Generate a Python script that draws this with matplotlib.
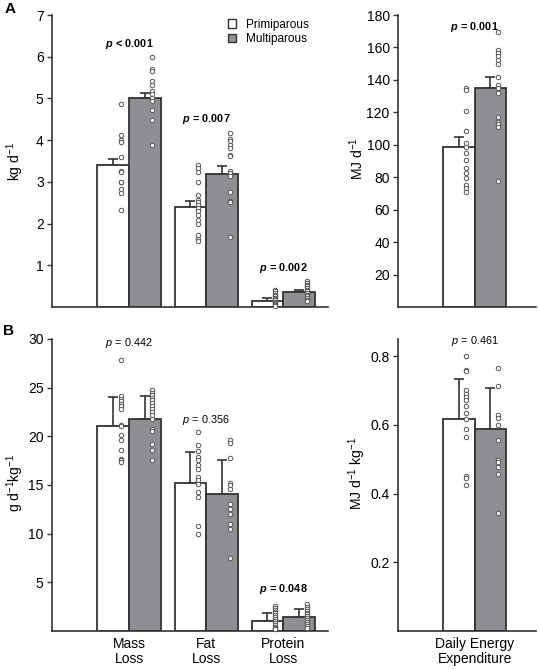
import matplotlib
matplotlib.use("Agg")
import matplotlib.pyplot as plt
from matplotlib.patches import Patch

plt.rcParams['font.family'] = ['Liberation Sans', 'DejaVu Sans']
plt.rcParams['mathtext.fontset'] = 'custom'
plt.rcParams['mathtext.rm'] = 'Liberation Sans'
plt.rcParams['mathtext.it'] = 'Liberation Sans:italic'
plt.rcParams['mathtext.bf'] = 'Liberation Sans:bold'
plt.rcParams['mathtext.bfit'] = 'Liberation Sans:bold:italic'
plt.rcParams['axes.unicode_minus'] = False

# ---------------- data ----------------
groups = ["Primiparous", "Multiparous"]
loss_categories = ["Mass\nLoss", "Fat\nLoss", "Protein\nLoss"]
dee_category = ["Daily Energy\nExpenditure"]

# Panel A (absolute)
a_loss_prim_mean = [3.40, 2.40, 0.15]
a_loss_prim_se = [0.15, 0.15, 0.06]
a_loss_multi_mean = [5.00, 3.20, 0.35]
a_loss_multi_se = [0.12, 0.17, 0.06]
a_loss_p = [r"$\mathbfit{p}\,\mathbf{<\,0.001}$", r"$\mathbfit{p}\,\mathbf{=\,0.007}$", r"$\mathbfit{p}\,\mathbf{=\,0.002}$"]
a_loss_p_y = [6.3, 4.5, 0.94]

a_mass_prim_pts = [4.87, 4.13, 4.00, 3.96, 3.60, 3.25, 3.23, 3.01, 2.99, 2.83, 2.73, 2.33]
a_mass_multi_pts = [5.99, 5.70, 5.65, 5.41, 5.33, 5.17, 5.11, 5.01, 4.93, 4.73, 4.48, 3.89]
a_fat_prim_pts = [3.41, 3.33, 3.23, 2.99, 2.68, 2.57, 2.52, 2.45, 2.37, 2.31, 2.21, 2.09, 2.00, 1.73, 1.63, 1.58]
a_fat_multi_pts = [4.17, 4.03, 3.97, 3.89, 3.81, 3.65, 3.61, 3.27, 3.21, 3.13, 2.76, 2.55, 2.51, 1.67]
a_prot_prim_pts = [0.42, 0.38, 0.34, 0.30, 0.26, 0.22, 0.19, 0.16, 0.13, 0.10, 0.08, 0.05, 0.03]
a_prot_multi_pts = [0.63, 0.58, 0.54, 0.50, 0.46, 0.42, 0.38, 0.34, 0.30, 0.26, 0.22, 0.18, 0.14]

a_dee_prim_mean = [98.9]
a_dee_prim_se = [6.1]
a_dee_multi_mean = [134.9]
a_dee_multi_se = [7.1]
a_dee_p = r"$\mathbfit{p}\,\mathbf{=\,0.001}$"
a_dee_p_y = 172.6
a_dee_prim_pts = [134.9, 133.8, 121.1, 108.6, 101.4, 98.9, 94.8, 90.7, 85.6, 82.9, 79.4, 75.3, 73.3, 71.2]
a_dee_multi_pts = [169.7, 158.5, 156.8, 154.8, 152.3, 149.8, 142.0, 136.9, 134.9, 131.8, 117.0, 114.3, 112.9, 111.2, 77.8]

# Panel B (mass-specific)
b_loss_prim_mean = [21.03, 15.20, 1.06]
b_loss_prim_se = [3.01, 3.16, 0.82]
b_loss_multi_mean = [21.78, 14.08, 1.47]
b_loss_multi_se = [2.36, 3.52, 0.79]
b_loss_p = [r"$\mathit{p}\,=\,0.442$", r"$\mathit{p}\,=\,0.356$", r"$\mathbfit{p}\,\mathbf{=\,0.048}$"]
b_loss_p_y = [29.6, 21.7, 4.3]

b_mass_prim_pts = [27.8, 24.1, 23.87, 23.6, 23.36, 23.08, 22.84, 21.2, 21.03, 20.1, 19.6, 18.63, 17.7, 17.53, 17.36]
b_mass_multi_pts = [24.73, 24.45, 24.21, 23.97, 23.7, 23.42, 23.08, 22.84, 22.5, 22.16, 21.82, 20.79, 20.51, 19.25, 18.63, 17.6]
b_fat_prim_pts = [20.45, 19.08, 18.46, 17.88, 17.53, 17.02, 16.68, 15.82, 15.48, 15.14, 14.28, 13.77, 10.75, 10.0]
b_fat_multi_pts = [19.59, 19.32, 17.77, 15.24, 14.97, 14.62, 13.01, 12.57, 12.05, 10.96, 10.51, 7.53]
b_prot_prim_pts = [2.6, 2.4, 2.2, 2.0, 1.8, 1.6, 1.4, 1.2, 1.0, 0.8, 0.6, 0.4, 0.3, 0.2]
b_prot_multi_pts = [2.75, 2.5, 2.3, 2.1, 1.9, 1.7, 1.5, 1.3, 1.1, 0.9, 0.7, 0.5, 0.35]

b_dee_prim_mean = [0.617]
b_dee_prim_se = [0.117]
b_dee_multi_mean = [0.587]
b_dee_multi_se = [0.121]
b_dee_p = r"$\mathit{p}\,=\,0.461$"
b_dee_p_y = 0.844
b_dee_prim_pts = [0.80, 0.759, 0.756, 0.702, 0.691, 0.681, 0.672, 0.654, 0.635, 0.618, 0.587, 0.565, 0.451, 0.446, 0.424]
b_dee_multi_pts = [0.766, 0.712, 0.63, 0.621, 0.601, 0.557, 0.499, 0.492, 0.477, 0.458, 0.344]

# ---------------- style ----------------
EDGE = '#333333'
GRAY = '#8e8f93'
BW = 0.41
DOT_OFF = 0.24 * BW
FS = 10
PFS = 7.8

fig = plt.figure(figsize=(5.39, 6.69), dpi=100)
axA1 = fig.add_axes([0.0965, 0.541, 0.512, 0.4365])
axA2 = fig.add_axes([0.7384, 0.541, 0.256, 0.4365])
axB1 = fig.add_axes([0.0965, 0.0568, 0.512, 0.4365])
axB2 = fig.add_axes([0.7384, 0.0568, 0.256, 0.4365])


def style(ax, xlim, ylim, yticks, yticklabels):
    ax.set_xlim(*xlim)
    ax.set_ylim(*ylim)
    for s in ['top', 'right']:
        ax.spines[s].set_visible(False)
    for s in ['left', 'bottom']:
        ax.spines[s].set_color(EDGE)
        ax.spines[s].set_linewidth(1.2)
    ax.set_yticks(yticks)
    ax.set_yticklabels(yticklabels, fontsize=FS)
    ax.tick_params(axis='y', length=3.5, width=1.0, color=EDGE, pad=2.5)
    ax.tick_params(axis='x', length=0, pad=4)


def draw(ax, pm, pse, mm, mse, ppts_list, mpts_list):
    x = list(range(len(pm)))
    xp = [i - BW / 2 for i in x]
    xm = [i + BW / 2 for i in x]
    ax.bar(xp, pm, width=BW, color='white', edgecolor=EDGE, linewidth=1.3, zorder=2)
    ax.bar(xm, mm, width=BW, color=GRAY, edgecolor=EDGE, linewidth=1.3, zorder=2)
    ax.errorbar(xp, pm, yerr=[[0] * len(pm), pse], fmt='none', ecolor=EDGE,
                elinewidth=1.2, capsize=3.5, capthick=1.2, zorder=1)
    ax.errorbar(xm, mm, yerr=[[0] * len(mm), mse], fmt='none', ecolor=EDGE,
                elinewidth=1.2, capsize=3.5, capthick=1.2, zorder=1)
    for i, pts in enumerate(ppts_list):
        ax.plot([xp[i] + DOT_OFF] * len(pts), pts, 'o', ms=3.2, mfc='white',
                mec='#555555', mew=0.7, zorder=4, clip_on=False)
    for i, pts in enumerate(mpts_list):
        ax.plot([xm[i] + DOT_OFF] * len(pts), pts, 'o', ms=3.2, mfc='white',
                mec='#555555', mew=0.7, zorder=4, clip_on=False)


# Panel A left
draw(axA1, a_loss_prim_mean, a_loss_prim_se, a_loss_multi_mean, a_loss_multi_se,
     [a_mass_prim_pts, a_fat_prim_pts, a_prot_prim_pts],
     [a_mass_multi_pts, a_fat_multi_pts, a_prot_multi_pts])
style(axA1, (-1, 2.58), (0, 7), [1, 2, 3, 4, 5, 6, 7], ['1', '2', '3', '4', '5', '6', '7'])
axA1.set_xticks([0, 1, 2])
axA1.set_xticklabels([])
for i, (t, y) in enumerate(zip(a_loss_p, a_loss_p_y)):
    axA1.text(i, y, t, ha='center', va='center', fontsize=PFS, fontweight='bold')
axA1.set_ylabel(r"kg d$^{\mathregular{-1}}$", fontsize=FS, va='center')
axA1.yaxis.set_label_coords(-0.134, 0.5)

# Panel A right
draw(axA2, a_dee_prim_mean, a_dee_prim_se, a_dee_multi_mean, a_dee_multi_se,
     [a_dee_prim_pts], [a_dee_multi_pts])
style(axA2, (-1, 0.8), (0, 180), [20, 40, 60, 80, 100, 120, 140, 160, 180],
      ['20', '40', '60', '80', '100', '120', '140', '160', '180'])
axA2.set_xticks([0])
axA2.set_xticklabels([])
axA2.text(0, a_dee_p_y, a_dee_p, ha='center', va='center', fontsize=PFS, fontweight='bold')
axA2.set_ylabel(r"MJ d$^{\mathregular{-1}}$", fontsize=FS, va='center')
axA2.yaxis.set_label_coords(-0.297, 0.51)

# Panel B left
draw(axB1, b_loss_prim_mean, b_loss_prim_se, b_loss_multi_mean, b_loss_multi_se,
     [b_mass_prim_pts, b_fat_prim_pts, b_prot_prim_pts],
     [b_mass_multi_pts, b_fat_multi_pts, b_prot_multi_pts])
style(axB1, (-1, 2.58), (0, 30), [5, 10, 15, 20, 25, 30], ['5', '10', '15', '20', '25', '30'])
axB1.set_xticks([0, 1, 2])
axB1.set_xticklabels(loss_categories, fontsize=FS, linespacing=1.1)
for i, (t, y) in enumerate(zip(b_loss_p, b_loss_p_y)):
    axB1.text(i, y, t, ha='center', va='center', fontsize=PFS,
              fontweight='bold' if 'mathbf' in t else 'normal')
axB1.set_ylabel(r"g d$^{\mathregular{-1}}$kg$^{\mathregular{-1}}$", fontsize=FS, va='center')
axB1.yaxis.set_label_coords(-0.134, 0.507)

# Panel B right
draw(axB2, b_dee_prim_mean, b_dee_prim_se, b_dee_multi_mean, b_dee_multi_se,
     [b_dee_prim_pts], [b_dee_multi_pts])
style(axB2, (-1, 0.8), (0, 0.85), [0.2, 0.4, 0.6, 0.8], ['0.2', '0.4', '0.6', '0.8'])
axB2.set_xticks([0])
axB2.set_xticklabels(dee_category, fontsize=FS, linespacing=1.1)
axB2.text(0, b_dee_p_y, b_dee_p, ha='center', va='center', fontsize=PFS)
axB2.set_ylabel(r"MJ d$^{\mathregular{-1}}$ kg$^{\mathregular{-1}}$", fontsize=FS, va='center')
axB2.yaxis.set_label_coords(-0.297, 0.54)

# Legend
handles = [Patch(facecolor='white', edgecolor=EDGE, linewidth=1.0, label=groups[0]),
           Patch(facecolor=GRAY, edgecolor=EDGE, linewidth=1.0, label=groups[1])]
axA1.legend(handles=handles, loc='upper left', bbox_to_anchor=(0.638, 0.988), frameon=False,
            fontsize=8.5, handlelength=0.7, handleheight=0.7, handletextpad=0.8,
            labelspacing=0.2, borderaxespad=0, borderpad=0)

# Panel letters
fig.text(10 / 539, 1 - 9 / 669, "A", fontsize=11, fontweight='bold', ha='center', va='center')
fig.text(9 / 539, 1 - 331 / 669, "B", fontsize=11, fontweight='bold', ha='center', va='center')

fig.savefig("out.png", dpi=100)
